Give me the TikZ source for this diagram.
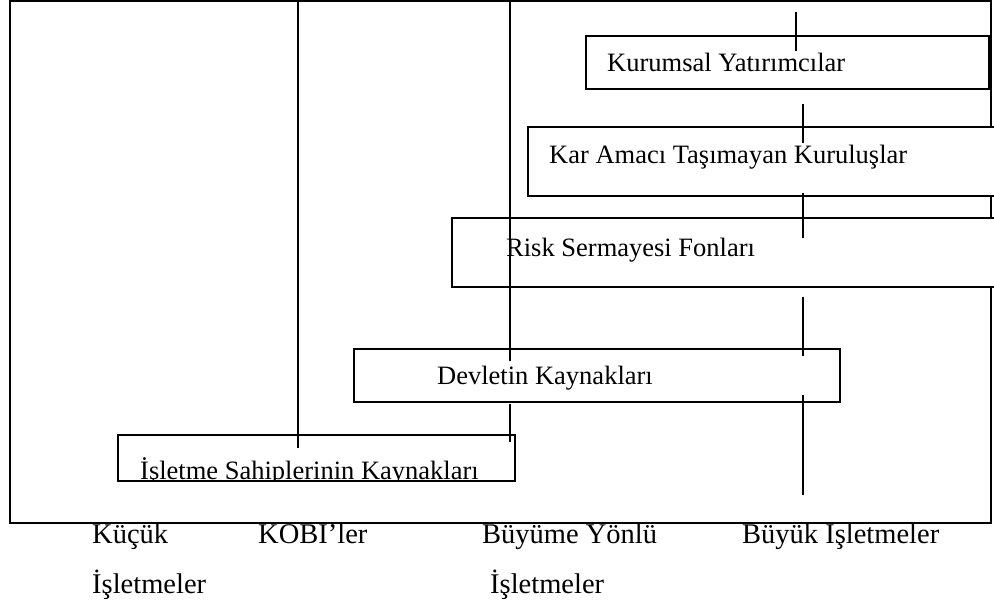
\documentclass[tikz,border=0pt]{standalone}
\usepackage{fontspec}
\setmainfont{Liberation Serif}
\usetikzlibrary{positioning}
\tikzset{
        x=1pt, y=-1pt, % pixel grid, y runs downwards
        rule/.style={line width=1.6pt}, % frame and vertical lines
        bar/.style={draw, fill=white, line width=1.6pt}, % source bars
        bartext/.style={anchor=base west, inner sep=0pt, font=\fontsize{26.5}{32}\selectfont},
        axistext/.style={anchor=base west, inner sep=0pt, font=\fontsize{28.5}{34}\selectfont},
    }

\begin{document}
\begin{tikzpicture}
    \useasboundingbox (0,0) rectangle (994,607);
    % frame
    \draw[rule] (10,1) rectangle (991,523);
    % bars
    \draw[bar] (586,36) rectangle (989,89);
    \draw[bar] (528,127) rectangle (1005,196);
    \draw[bar] (452,218) rectangle (1005,287);
    \draw[bar] (354,349) rectangle (840,402);
    \draw[bar] (118,435) rectangle (515,481);
    \node[bartext] (kurumsal) at (607,72) {Kurumsal Yatırımcılar};
    \node[bartext] (karamaci) at (549,164) {Kar Amacı Taşımayan Kuruluşlar};
    \node[bartext] (risk) at (506,256) {Risk Sermayesi Fonları};
    \node[bartext] (devlet) at (437,384) {Devletin Kaynakları};
    \begin{scope}
        \clip (118,435) rectangle (515,480);
        \node[bartext] (sahip) at (140,479) {İşletme Sahiplerinin Kaynakları};
    \end{scope}
    % vertical lines
    \draw[rule] (298,1) -- (298,448);
    \draw[rule] (510,1) -- (510,361);
    \draw[rule] (510,404) -- (510,442);
    \draw[rule] (796,12) -- (796,51);
    \draw[rule] (803,104) -- (803,143);
    \draw[rule] (803,193) -- (803,238);
    \draw[rule] (803,297) -- (803,356);
    \draw[rule] (803,395) -- (803,495);
    % firm sizes
    \begin{scope}
        \clip (0,523.8) rectangle (994,607);
        \node[axistext] (kucuk) at (92,543) {Küçük};
        \node[axistext] (kucuk2) at (92,593) {İşletmeler};
        \node[axistext] (kobi) at (258,543) {KOBİ’ler};
        \node[axistext] (buyume) at (482,543) {Büyüme Yönlü};
        \node[axistext] (buyume2) at (490,593) {İşletmeler};
        \node[axistext] (buyuk) at (742,543) {Büyük İşletmeler};
    \end{scope}
\end{tikzpicture}
\end{document}
